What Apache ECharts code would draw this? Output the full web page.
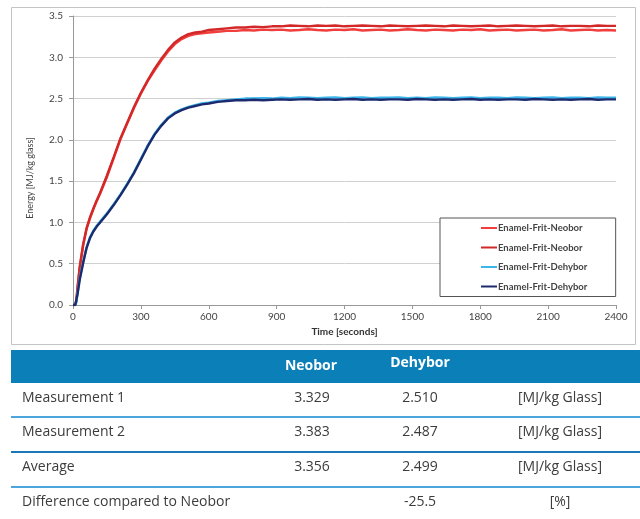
<!DOCTYPE html>
<html><head><meta charset="utf-8">
<script src="https://cdn.jsdelivr.net/npm/echarts@6/dist/echarts.min.js"></script>
<style>html,body{margin:0;padding:0;background:#fff}#c{width:640px;height:519px}</style>
</head><body><div id="c"></div>
<script>
const times = [0,10,15,20,30,45,60,75,90,105,120,150,180,210,240,270,300,330,360,390,420,450,480,510,540,570,600,640,680,720,760,800,840,880,920,960,1000,1040,1080,1120,1160,1200,1240,1280,1320,1360,1400,1440,1480,1520,1560,1600,1640,1680,1720,1760,1800,1840,1880,1920,1960,2000,2040,2080,2120,2160,2200,2240,2280,2320,2360,2400];
const neobor1 = [0,0,0.05,0.2,0.45,0.72,0.92,1.05,1.16,1.26,1.35,1.55,1.78,2.01,2.2,2.39,2.56,2.71,2.84,2.96,3.07,3.16,3.22,3.26,3.28,3.29,3.3,3.31,3.32,3.32,3.33,3.325,3.335,3.33,
 3.335,3.325,3.33,3.34,3.33,3.325,3.335,3.33,3.34,3.325,
 3.33,3.335,3.325,3.33,3.34,3.33,3.325,3.335,3.33,3.325,
 3.335,3.33,3.34,3.325,3.33,3.335,3.325,3.33,3.335,3.325,
 3.33,3.34,3.325,3.33,3.335,3.325,3.33,3.325];
const neobor2 = [0,0,0.06,0.22,0.47,0.74,0.93,1.06,1.17,1.27,1.36,1.57,1.79,2.02,2.21,2.4,2.57,2.72,2.86,2.98,3.09,3.18,3.24,3.28,3.3,3.31,3.33,3.34,3.35,3.36,3.36,3.37,3.365,3.375,
 3.375,3.385,3.38,3.375,3.385,3.38,3.385,3.375,3.38,3.385,
 3.38,3.375,3.385,3.38,3.375,3.38,3.385,3.38,3.375,3.385,
 3.38,3.375,3.38,3.385,3.375,3.38,3.385,3.38,3.375,3.38,
 3.385,3.375,3.38,3.38,3.375,3.385,3.38,3.38];
const dehybor1 = [0,0,0.03,0.15,0.33,0.53,0.7,0.82,0.9,0.96,1.01,1.11,1.22,1.34,1.47,1.61,1.77,1.93,2.07,2.18,2.27,2.33,2.37,2.4,2.42,2.44,2.45,2.47,2.48,2.49,2.5,2.5,2.505,2.5,
 2.51,2.505,2.515,2.51,2.505,2.51,2.515,2.505,2.51,2.515,
 2.505,2.51,2.51,2.515,2.505,2.51,2.505,2.515,2.51,2.505,
 2.51,2.515,2.505,2.51,2.51,2.505,2.515,2.51,2.505,2.51,
 2.515,2.505,2.51,2.51,2.505,2.515,2.51,2.51];
const dehybor2 = [0,0,0.02,0.13,0.31,0.51,0.69,0.81,0.89,0.95,1.0,1.1,1.21,1.33,1.46,1.6,1.76,1.92,2.06,2.17,2.26,2.32,2.36,2.39,2.41,2.43,2.44,2.46,2.47,2.48,2.48,2.485,2.48,2.485,
 2.49,2.485,2.49,2.495,2.485,2.49,2.485,2.49,2.495,2.485,
 2.49,2.485,2.49,2.49,2.485,2.495,2.49,2.485,2.49,2.485,
 2.49,2.495,2.485,2.49,2.485,2.49,2.49,2.485,2.495,2.49,
 2.485,2.49,2.485,2.49,2.495,2.485,2.49,2.49];
const seriesNames = ['Enamel-Frit-Neobor','Enamel-Frit-Neobor ','Enamel-Frit-Dehybor','Enamel-Frit-Dehybor '];
const seriesColors = ['#f23d3d','#d22828','#3ab6ea','#1d2b6e'];
const xTicks = [0,300,600,900,1200,1500,1800,2100,2400];
const yAxisTitle = 'Energy [MJ/kg glass]';
const xAxisTitle = 'Time [seconds]';

const tableHeader = ['', 'Neobor', 'Dehybor', ''];
const rowLabels = ['Measurement 1','Measurement 2','Average','Difference compared to Neobor'];
const neoborVals = ['3.329','3.383','3.356',''];
const dehyborVals = ['2.510','2.487','2.499','-25.5'];
const unitVals = ['[MJ/kg Glass]','[MJ/kg Glass]','[MJ/kg Glass]','[%]'];

const chart = echarts.init(document.getElementById('c'));
const allSeries = [neobor1, neobor2, dehybor1, dehybor2];
const series = allSeries.map((arr, i) => ({
  name: seriesNames[i], type: 'line', symbol: 'none', smooth: false,
  data: times.map((t, k) => [t, arr[k]]),
  lineStyle: { color: seriesColors[i], width: 2.4 },
  itemStyle: { color: seriesColors[i] },
  z: 2 + i
}));

const font = 'Lato, "Noto Sans", sans-serif';
const tfont = '"Open Sans", "Noto Sans", sans-serif';
const txtColor = '#3c3c3c';
const graphics = [
  { type: 'rect', shape: { x: 11.5, y: 7.5, width: 624, height: 337 }, style: { fill: 'none', stroke: '#c4c4c4', lineWidth: 1 }, z: -1 },
  { type: 'text', x: 30, y: 178, rotation: Math.PI / 2, style: { text: yAxisTitle, font: '9px ' + font, fill: '#444', align: 'center', verticalAlign: 'middle' } },
  { type: 'rect', shape: { x: 11, y: 350, width: 629, height: 33 }, style: { fill: '#0b7fb7' } },
  { type: 'text', x: 311, y: 366, style: { text: tableHeader[1], font: 'bold 14px ' + tfont, fill: '#fff', align: 'center', verticalAlign: 'middle' } },
  { type: 'text', x: 420, y: 363, style: { text: tableHeader[2], font: 'bold 14px ' + tfont, fill: '#fff', align: 'center', verticalAlign: 'middle' } }
];
const rowY = [398, 432, 467, 502];
const sepY = [417, 452, 487];
const sepColor = ['#4aa6dc', '#1a78b6', '#4aa6dc'];
rowLabels.forEach((lab, r) => {
  graphics.push({ type: 'text', x: 22, y: rowY[r], style: { text: lab, font: '14px ' + tfont, fill: txtColor, align: 'left', verticalAlign: 'middle' } });
  graphics.push({ type: 'text', x: 312, y: rowY[r], style: { text: neoborVals[r], font: '14px ' + tfont, fill: txtColor, align: 'center', verticalAlign: 'middle' } });
  graphics.push({ type: 'text', x: 420, y: rowY[r], style: { text: dehyborVals[r], font: '14px ' + tfont, fill: txtColor, align: 'center', verticalAlign: 'middle' } });
  graphics.push({ type: 'text', x: 560, y: rowY[r], style: { text: unitVals[r], font: '14px ' + tfont, fill: txtColor, align: 'center', verticalAlign: 'middle' } });
});
sepY.forEach((y, i) => {
  graphics.push({ type: 'rect', shape: { x: 11, y: y - 1, width: 629, height: 2 }, style: { fill: sepColor[i] } });
});

chart.setOption({
  animation: false,
  backgroundColor: '#fff',
  grid: { left: 73, right: 24, top: 16, bottom: 214 },
  legend: {
    orient: 'vertical', left: 440, top: 218,
    data: seriesNames,
    icon: 'rect', itemWidth: 16, itemHeight: 2, itemGap: 9.5,
    padding: [5, 26, 5, 41],
    borderColor: '#555', borderWidth: 1, backgroundColor: '#fff',
    textStyle: { fontFamily: font, fontWeight: 'bold', fontSize: 9.5, color: '#444', padding: [0,0,0,-4] }
  },
  xAxis: {
    type: 'value', min: 0, max: 2400, interval: 300,
    name: xAxisTitle, nameLocation: 'middle', nameGap: 22,
    nameTextStyle: { fontFamily: font, fontWeight: 'bold', fontSize: 10, color: '#333' },
    axisLine: { show: true, lineStyle: { color: '#999' } },
    axisTick: { show: true, length: 4, lineStyle: { color: '#999' } },
    axisLabel: { fontFamily: font, fontSize: 10, color: '#444', margin: 7, formatter: v => String(v) },
    splitLine: { show: false }
  },
  yAxis: {
    type: 'value', min: 0, max: 3.5, interval: 0.5,
    axisLine: { show: true, lineStyle: { color: '#999' } },
    axisTick: { show: true, length: 4, lineStyle: { color: '#999' } },
    axisLabel: { fontFamily: font, fontSize: 10, color: '#444', margin: 10, formatter: v => v.toFixed(1) },
    splitLine: { show: true, lineStyle: { color: '#d0d0d0', width: 1 } }
  },
  series: series,
  graphic: graphics
});
</script>
</body></html>
